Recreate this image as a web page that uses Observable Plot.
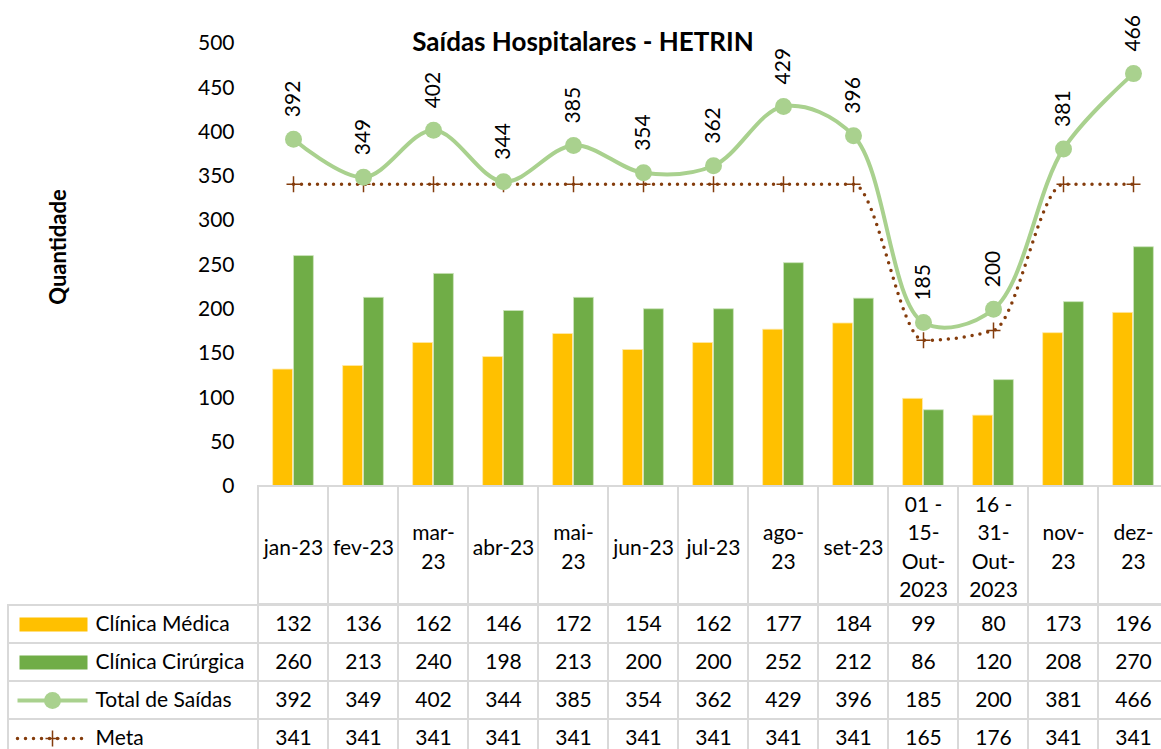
<!DOCTYPE html>
<html><head><meta charset="utf-8">
<script src="https://cdn.jsdelivr.net/npm/d3@7"></script>
<script src="https://cdn.jsdelivr.net/npm/@observablehq/plot@0.6"></script>
<style>
html,body{margin:0;padding:0;background:#fff}
#wrap{position:relative;width:1161px;height:749px;overflow:hidden;font-family:Lato,sans-serif;background:#fff}
#wrap svg{position:absolute;left:0;max-width:none !important;background:transparent !important;overflow:visible !important;font-family:Lato,sans-serif !important}
#title{position:absolute;left:0;width:1166px;top:25px;text-align:center;font-weight:bold;font-size:26px;line-height:32px;color:#000}
#ylab{position:absolute;left:57px;top:247px;transform:translate(-50%,-50%) rotate(-90deg);font-weight:bold;font-size:22px;white-space:nowrap;color:#000}
</style></head><body>
<div id="wrap">
  <div id="title">Saídas Hospitalares - HETRIN</div>
  <div id="ylab">Quantidade</div>
</div>
<script>
const categories = ["jan-23","fev-23","mar-23","abr-23","mai-23","jun-23","jul-23","ago-23","set-23","01 - 15-Out-2023","16 - 31-Out-2023","nov-23","dez-23"];
const tickLabels = ["jan-23","fev-23","mar-\n23","abr-23","mai-\n23","jun-23","jul-23","ago-\n23","set-23","01 -\n15-\nOut-\n2023","16 -\n31-\nOut-\n2023","nov-\n23","dez-\n23"];
const clinicaMedica = [132,136,162,146,172,154,162,177,184,99,80,173,196];
const clinicaCirurgica = [260,213,240,198,213,200,200,252,212,86,120,208,270];
const totalSaidas = [392,349,402,344,385,354,362,429,396,185,200,381,466];
const meta = [341,341,341,341,341,341,341,341,341,165,176,341,341];
const seriesNames = ["Clínica Médica","Clínica Cirúrgica","Total de Saídas","Meta"];
const yTicks = [0,50,100,150,200,250,300,350,400,450,500];

const rows = categories.map((c,i)=>({cat:c, label:tickLabels[i], med:clinicaMedica[i], cir:clinicaCirurgica[i], tot:totalSaidas[i], meta:meta[i]}));
const seriesValues = [clinicaMedica, clinicaCirurgica, totalSaidas, meta];
const tableData = [];
seriesNames.forEach((s,j)=>categories.forEach((c,i)=>tableData.push({series:s, cat:c, value:seriesValues[j][i]})));

const ORANGE="#FFC000", GREEN="#70AD47", LGREEN="#A9D18E", BROWN="#843C0C", GRID="#D9D9D9";
const xOpt = {type:"band", domain:categories, range:[256,1170], padding:0, axis:null};
const W = 1172;
const cross = {draw(ctx){ ctx.moveTo(-7,0); ctx.lineTo(7,0); ctx.moveTo(0,-8); ctx.lineTo(0,8); }};
const swatch = {draw(ctx){ ctx.rect(-34,-7,68,14); }};
const hline = {draw(ctx){ ctx.moveTo(-35,0); ctx.lineTo(35,0); }};

const wrap = document.getElementById("wrap");

// Main chart
const main = Plot.plot({
  width:W, height:486, marginTop:43, marginBottom:0, marginLeft:256, marginRight:2,
  x: xOpt,
  y: {domain:[0,500], axis:null},
  marks: [
    Plot.axisY({ticks:yTicks, tickSize:0, tickPadding:22, fontSize:21, label:null}),
    Plot.barY(rows, {x:"cat", y:"med", fill:ORANGE, stroke:"#FFE9A6", strokeWidth:0.8, insetLeft:14.7, insetRight:35.6}),
    Plot.barY(rows, {x:"cat", y:"cir", fill:GREEN, stroke:"#C9E2B8", strokeWidth:0.8, insetLeft:35.6, insetRight:14.7}),
    Plot.line(rows, {x:"cat", y:"meta", stroke:BROWN, strokeWidth:3.5, strokeDasharray:"0 8", strokeLinecap:"round", curve:"monotone-x"}),
    Plot.dot(rows, {x:"cat", y:"meta", symbol:cross, stroke:BROWN, strokeWidth:1.5, fill:"none"}),
    Plot.line(rows, {x:"cat", y:"tot", stroke:LGREEN, strokeWidth:4, curve:"catmull-rom"}),
    Plot.dot(rows, {x:"cat", y:"tot", r:8.5, fill:LGREEN, stroke:null}),
    Plot.text(rows, {x:"cat", y:"tot", text:d=>String(d.tot), rotate:-90, textAnchor:"start", dy:-22, fontSize:21, fill:"#000"})
  ]
});
main.style.top = "0px";
wrap.appendChild(main);

// Header (category labels)
const header = Plot.plot({
  width:W, height:118, marginTop:0, marginBottom:0, marginLeft:256, marginRight:2,
  x: xOpt,
  marks: [
    Plot.cell(categories, {x:d=>d, fill:"none", stroke:GRID, strokeWidth:2}),
    Plot.text(rows, {x:"cat", text:"label", frameAnchor:"middle", lineHeight:1.35, fontSize:21, fill:"#000"})
  ]
});
header.style.top = "486px";
wrap.appendChild(header);

// Data table
const table = Plot.plot({
  width:W, height:153, marginTop:0, marginBottom:0, marginLeft:8, marginRight:0,
  x: xOpt,
  y: {type:"band", domain:seriesNames, padding:0, axis:null},
  marks: [
    Plot.cell(seriesNames, {y:d=>d, fill:"none", stroke:GRID, strokeWidth:2}),
    Plot.cell(tableData, {x:"cat", y:"series", fill:"none", stroke:GRID, strokeWidth:2}),
    Plot.text(tableData, {x:"cat", y:"series", text:d=>String(d.value), fontSize:21, fill:"#000"}),
    Plot.text(seriesNames, {y:d=>d, text:d=>d, frameAnchor:"left", dx:87, textAnchor:"start", fontSize:21, fill:"#000"}),
    Plot.dot([seriesNames[0]], {y:d=>d, frameAnchor:"left", dx:45, symbol:swatch, fill:ORANGE, stroke:null}),
    Plot.dot([seriesNames[1]], {y:d=>d, frameAnchor:"left", dx:45, symbol:swatch, fill:GREEN, stroke:null}),
    Plot.dot([seriesNames[2]], {y:d=>d, frameAnchor:"left", dx:44, symbol:hline, fill:"none", stroke:LGREEN, strokeWidth:4}),
    Plot.dot([seriesNames[2]], {y:d=>d, frameAnchor:"left", dx:44, r:8.5, fill:LGREEN, stroke:null}),
    Plot.dot([seriesNames[3]], {y:d=>d, frameAnchor:"left", dx:44, symbol:hline, fill:"none", stroke:BROWN, strokeWidth:3.5, strokeDasharray:"0 8", strokeLinecap:"round"}),
    Plot.dot([seriesNames[3]], {y:d=>d, frameAnchor:"left", dx:44, symbol:cross, fill:"none", stroke:BROWN, strokeWidth:1.5})
  ]
});
table.style.top = "604px";
wrap.appendChild(table);
</script>
</body></html>
